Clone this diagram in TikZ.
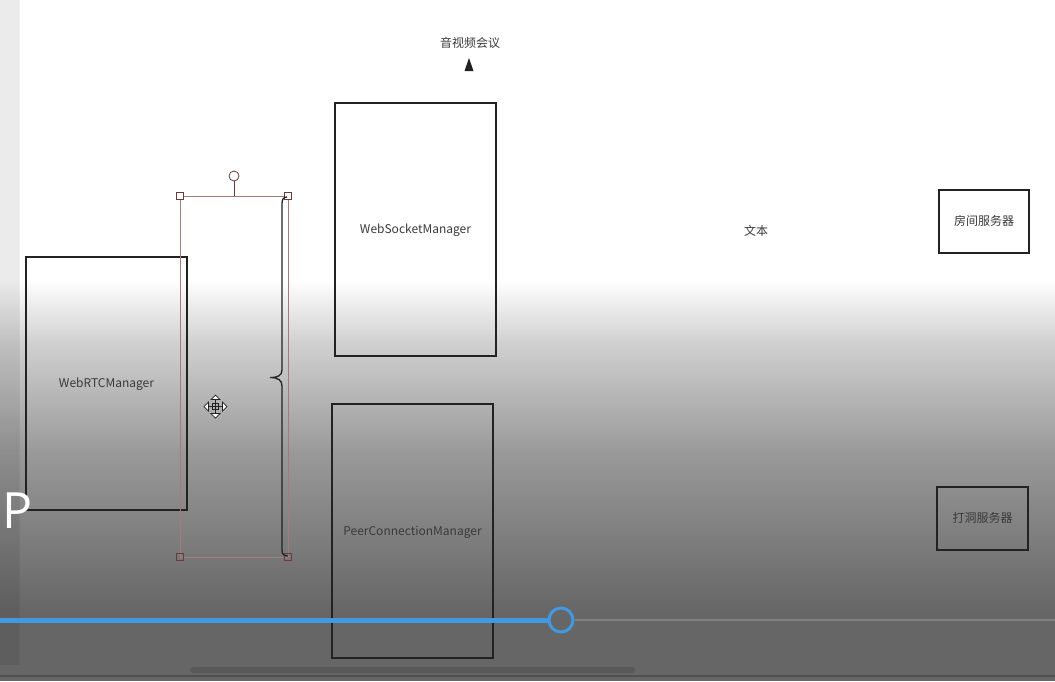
\documentclass[tikz,border=0pt]{standalone}
\usepackage{fontspec}
\setmainfont{Noto Sans CJK SC}
\newfontfamily\bigsans{Open Sans}
\usetikzlibrary{arrows.meta}
\definecolor{ink}{HTML}{222222}
\definecolor{txt}{HTML}{3A3A3A}
\definecolor{selc}{HTML}{A07C7C}
\definecolor{hdl}{HTML}{6B3A3A}
\definecolor{blu}{HTML}{4299E1}
\definecolor{dk}{HTML}{666666}
\definecolor{g1}{HTML}{D2D2D2}
\definecolor{g2}{HTML}{9A9A9A}
\definecolor{trk}{HTML}{808080}
\definecolor{scb}{HTML}{585858}
\definecolor{bln}{HTML}{505050}
\tikzset{
  box/.style={draw=ink, line width=1.4pt, inner sep=0pt, text=txt, text height=8pt, text depth=0pt, font=\fontsize{12}{14}\selectfont},
  lbl/.style={inner sep=0pt, text=txt, font=\fontsize{12}{14}\selectfont},
  handle/.style={draw=hdl, line width=0.8pt, minimum size=7pt, inner sep=0pt},
}
\begin{document}
\begin{tikzpicture}[x=1pt,y=-1pt]
\useasboundingbox (0,0) rectangle (1055,681);
% background
\fill[white] (0,0) rectangle (1055,281);
\shade[top color=white, bottom color=g1] (0,280) rectangle (1055,341);
\shade[top color=g1, bottom color=g2] (0,340) rectangle (1055,451);
\shade[top color=g2, bottom color=dk] (0,450) rectangle (1055,611);
\fill[dk] (0,610) rectangle (1055,681);
% left strip
\fill[black, opacity=0.08] (0,0) rectangle (19,665);
\draw[black, opacity=0.06, line width=0.8pt] (19,0) -- (19,665);
% boxes
\node[box, minimum width=161pt, minimum height=253pt] (rtc) at (106.5,383.5) {WebRTCManager};
\node[box, minimum width=161pt, minimum height=253pt] (ws) at (415.5,229.5) {WebSocketManager};
\node[box, minimum width=161pt, minimum height=254pt] (pc) at (412.5,531) {PeerConnectionManager};
\node[box, minimum width=90pt, minimum height=63pt] (room) at (984,221.5) {房间服务器};
\node[box, minimum width=91pt, minimum height=63pt] (hole) at (982.5,518.5) {打洞服务器};
\node[lbl] (meet) at (470,43) {音视频会议};
\node[lbl] (wenben) at (756,231) {文本};
% arrowhead under title
\fill[ink] (469,58) -- (473.5,71) -- (464.5,71) -- cycle;
% selection frame
\draw[selc, line width=0.8pt] (180,196) rectangle (288,557);
\draw[hdl, line width=0.8pt] (234,181) -- (234,196);
\node[draw=hdl, line width=0.8pt, circle, minimum size=10pt, inner sep=0pt, fill=white] (rot) at (234,176) {};
\node[handle, fill=white] (h1) at (180,196) {};
\node[handle, fill=white] (h2) at (288,196) {};
\node[handle] (h3) at (180,557) {};
\node[handle] (h4) at (288,557) {};
% brace
\draw[ink, line width=1.3pt] (287,197) .. controls (283.5,197) and (282,199) .. (282,204) -- (282,370)
  .. controls (282,375.5) and (278,377.5) .. (270,377.5)
  .. controls (278,377.5) and (282,380) .. (282,386) -- (282,550)
  .. controls (282,554.5) and (284,556) .. (288,556);
% move cursor
\begin{scope}[shift={(215.5,406.5)}, line width=0.7pt, ink]
\draw (-9,0) -- (9,0) (0,-9) -- (0,9);
\fill[white] (-11.5,0) -- (-7,-4.5) -- (-7,4.5) -- cycle (11.5,0) -- (7,-4.5) -- (7,4.5) -- cycle (0,-11.5) -- (-4.5,-7) -- (4.5,-7) -- cycle (0,11.5) -- (-4.5,7) -- (4.5,7) -- cycle;
\draw (-11.5,0) -- (-7,-4.5) -- (-7,4.5) -- cycle (11.5,0) -- (7,-4.5) -- (7,4.5) -- cycle (0,-11.5) -- (-4.5,-7) -- (4.5,-7) -- cycle (0,11.5) -- (-4.5,7) -- (4.5,7) -- cycle;
\draw (-3,-3) rectangle (3,3);
\end{scope}
% big P
\node[inner sep=0pt, anchor=base west, text=white, font=\bigsans\fontsize{50}{50}\selectfont] (pp) at (2,528) {P};
% progress bar
\coordinate (pstart) at (0,620);
\coordinate (pend) at (1055,620);
\node[draw=blu, line width=3pt, circle, minimum size=24pt, inner sep=0pt] (knob) at (561,620) {};
\draw[blu, line width=5pt] (pstart) -- (knob.west);
\draw[trk, line width=2pt] (knob.east) -- (pend);
% scrollbar and bottom line
\fill[scb, rounded corners=3pt] (190,667) rectangle (635,673);
\fill[bln] (0,675) rectangle (1055,677);
\end{tikzpicture}
\end{document}
